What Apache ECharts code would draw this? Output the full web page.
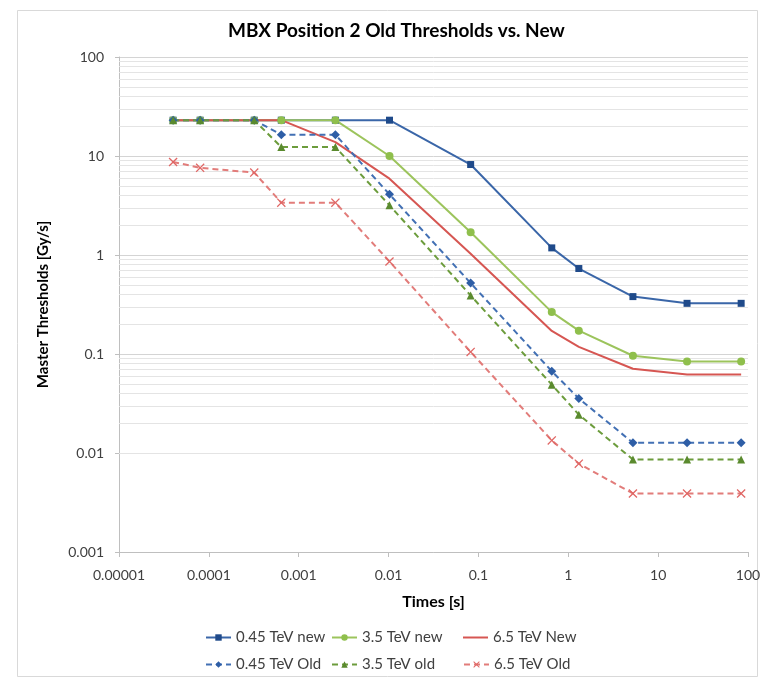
<!DOCTYPE html>
<html>
<head>
<meta charset="utf-8">
<script src="https://cdn.jsdelivr.net/npm/echarts@6/dist/echarts.min.js"></script>
<style>
  html, body { margin: 0; padding: 0; background: #ffffff; }
  #chart { width: 774px; height: 679px; }
</style>
</head>
<body>
<div id="chart"></div>
<script>
// Running-sum integration times [s]
const times = [0.00004, 0.00008, 0.00032, 0.00064, 0.00256, 0.01024, 0.08192, 0.655, 1.31, 5.24, 20.97, 83.89];

// Master thresholds [Gy/s]
const tev045New = [23, 23, 23, 23, 23, 23, 8.2, 1.18, 0.73, 0.38, 0.325, 0.325];
const tev35New  = [23, 23, 23, 23, 23, 10, 1.7, 0.265, 0.172, 0.096, 0.084, 0.084];
const tev65New  = [23, 23, 23, 23, 13.8, 5.9, 1.03, 0.171, 0.118, 0.071, 0.062, 0.062];
const tev045Old = [23, 23, 23, 16.4, 16.4, 4.1, 0.52, 0.067, 0.0355, 0.0127, 0.0127, 0.0127];
const tev35Old  = [23, 23, 23, 12.3, 12.3, 3.18, 0.39, 0.049, 0.0244, 0.0086, 0.0086, 0.0086];
const tev65Old  = [8.7, 7.6, 6.8, 3.38, 3.38, 0.86, 0.105, 0.0134, 0.0078, 0.0039, 0.0039, 0.0039];

const seriesNames = ['0.45 TeV new', '3.5 TeV new', '6.5 TeV New', '0.45 TeV Old', '3.5 TeV old', '6.5 TeV Old'];

// Axis tick labels, one per decade
const xTickLabels = ['0.00001', '0.0001', '0.001', '0.01', '0.1', '1', '10', '100'];
const yTickLabels = ['0.001', '0.01', '0.1', '1', '10', '100'];

const FONT = 'Lato, "Open Sans", sans-serif';

function pairs(vals) { return times.map((t, i) => [t, vals[i]]); }

// minor log gridlines at 2..9 of every decade
const minorGrid = [];
for (let e = -3; e < 2; e++) {
  for (let m = 2; m <= 9; m++) minorGrid.push({ yAxis: m * Math.pow(10, e) });
}

const crossPath = 'path://M1,0 L5,4 L9,0 L10,1 L6,5 L10,9 L9,10 L5,6 L1,10 L0,9 L4,5 L0,1 Z';
// bare line swatch: a 2px bar centred in an 8px-high box
const barIcon = 'path://M0,0 L0,0 M0,3 L25,3 L25,5 L0,5 Z M25,8 L25,8';

function lineSeries(name, vals, color, markerColor, symbol, dashed, symbolSize) {
  return {
    name: name,
    type: 'line',
    data: pairs(vals),
    symbol: symbol,
    symbolSize: symbolSize,
    showSymbol: symbol !== 'none',
    z: 3,
    lineStyle: { color: color, width: 2, type: dashed ? [6, 4] : 'solid' },
    itemStyle: { color: markerColor, borderColor: markerColor, borderWidth: 0 },
    emphasis: { disabled: true },
    animation: false
  };
}

const chart = echarts.init(document.getElementById('chart'), null, { renderer: 'canvas' });

// legend laid out as a 3x2 table: one legend block per cell
const legendCols = [205, 331, 463];
const legendRows = [630, 657];
const legendItems = [
  seriesNames[0], seriesNames[1], { name: seriesNames[2], icon: barIcon },
  seriesNames[3], seriesNames[4], seriesNames[5]
];
const legends = legendItems.map((item, i) => ({
  data: [item],
  left: legendCols[i % 3],
  top: legendRows[Math.floor(i / 3)],
  padding: 0,
  orient: 'horizontal',
  itemWidth: 25,
  itemHeight: 8,
  textStyle: { fontFamily: FONT, fontSize: 15, color: '#404040' }
}));

chart.setOption({
  backgroundColor: '#ffffff',
  animation: false,
  title: {
    text: 'MBX Position 2 Old Thresholds vs. New',
    left: 223,
    top: 16,
    textStyle: { fontFamily: FONT, fontSize: 19, fontWeight: 'bold', color: '#000000' }
  },
  graphic: [{
    type: 'rect',
    shape: { x: 17.5, y: 10.5, width: 740, height: 666 },
    style: { fill: 'none', stroke: '#d9d9d9', lineWidth: 1 },
    silent: true,
    z: -1
  }],
  legend: legends,
  grid: { left: 119, right: 26, top: 57, bottom: 127, containLabel: false },
  xAxis: {
    type: 'log',
    logBase: 10,
    min: 0.00001,
    max: 100,
    name: 'Times [s]',
    nameLocation: 'middle',
    nameGap: 42,
    nameTextStyle: { fontFamily: FONT, fontSize: 16, fontWeight: 'bold', color: '#000000' },
    axisLine: { show: true, lineStyle: { color: '#bfbfbf', width: 1 } },
    axisTick: { show: true, inside: false, length: 5, lineStyle: { color: '#bfbfbf' } },
    axisLabel: {
      fontFamily: FONT, fontSize: 14, color: '#404040', margin: 16,
      formatter: v => xTickLabels[Math.round(Math.log10(v)) + 5]
    },
    splitLine: { show: false },
    minorTick: { show: false }
  },
  yAxis: {
    type: 'log',
    logBase: 10,
    min: 0.001,
    max: 100,
    name: 'Master Thresholds [Gy/s]',
    nameLocation: 'middle',
    nameGap: 68,
    nameTextStyle: { fontFamily: FONT, fontSize: 15, fontWeight: 'bold', color: '#000000' },
    axisLine: { show: true, lineStyle: { color: '#bfbfbf', width: 1 } },
    axisTick: { show: true, inside: false, length: 4, lineStyle: { color: '#bfbfbf' } },
    axisLabel: {
      fontFamily: FONT, fontSize: 14, color: '#404040', margin: 15,
      formatter: v => yTickLabels[Math.round(Math.log10(v)) + 3]
    },
    splitLine: { show: true, lineStyle: { color: '#d4d4d4', width: 1 } }
  },
  series: [
    {
      name: 'minor-grid',
      type: 'line',
      data: [],
      silent: true,
      z: 1,
      markLine: {
        silent: true,
        symbol: ['none', 'none'],
        label: { show: false },
        lineStyle: { color: '#e4e4e4', width: 1, type: 'solid' },
        emphasis: { disabled: true },
        animation: false,
        z: 1,
        data: minorGrid
      }
    },
    lineSeries(seriesNames[0], tev045New, '#3a66a8', '#1f4a8a', 'rect', false, 7),
    lineSeries(seriesNames[1], tev35New, '#9cc45c', '#8fbf4c', 'circle', false, 8),
    lineSeries(seriesNames[2], tev65New, '#d65652', '#d65652', 'none', false, 7),
    lineSeries(seriesNames[3], tev045Old, '#4270b4', '#2e5ea6', 'diamond', true, 9),
    lineSeries(seriesNames[4], tev35Old, '#6c9c3c', '#5a8a2e', 'triangle', true, 8),
    lineSeries(seriesNames[5], tev65Old, '#e27c7a', '#e06664', crossPath, true, 9)
  ]
});
</script>
</body>
</html>
